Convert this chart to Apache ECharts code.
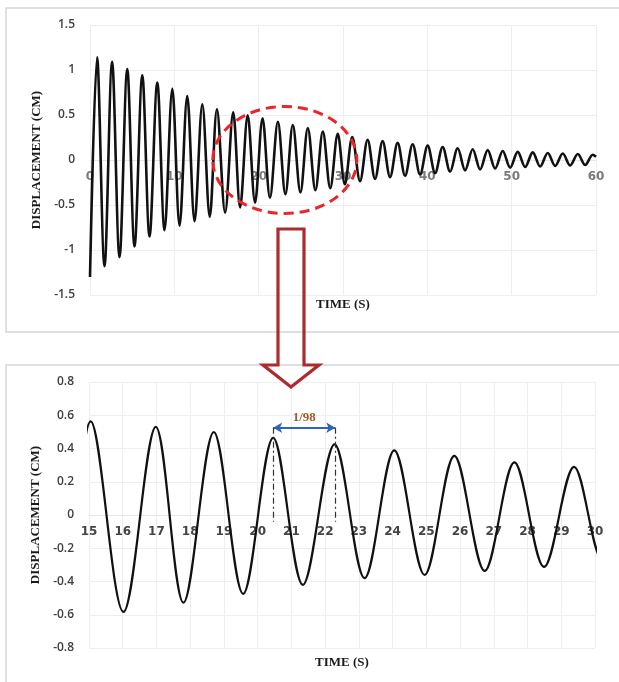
<!DOCTYPE html>
<html>
<head>
<meta charset="utf-8">
<script src="https://cdn.jsdelivr.net/npm/echarts@6/dist/echarts.min.js"></script>
<style>
html,body{margin:0;padding:0;background:#ffffff;}
#chart{width:619px;height:682px;}
</style>
</head>
<body>
<div id="chart"></div>
<script>
// ---- Data (extrema of the damped response) ----
const time = [
  0.00, 0.84, 1.72, 2.62, 3.50, 4.42, 5.28, 6.20, 7.06, 7.98, 8.84,
  9.76, 10.62, 11.53, 12.40, 13.32, 14.20, 15.05, 16.02, 16.98, 17.80,
  18.70, 19.57, 20.46, 21.34, 22.28, 23.17, 24.05, 24.95, 25.83, 26.73,
  27.61, 28.49, 29.38, 30.22, 31.10, 32.02, 32.92, 33.80, 34.70, 35.58,
  36.48, 37.36, 38.26, 39.14, 40.04, 40.92, 41.82, 42.70, 43.60, 44.48,
  45.38, 46.26, 47.16, 48.04, 48.94, 49.82, 50.72, 51.60, 52.50, 53.38,
  54.28, 55.16, 56.06, 56.94, 57.84, 58.72, 59.62, 60.00
];
const displacement = [
  -1.30, 1.14, -1.18, 1.09, -1.08, 1.01, -0.96, 0.94, -0.85, 0.86, -0.78,
  0.79, -0.73, 0.71, -0.68, 0.62, -0.63, 0.563, -0.583, 0.530, -0.527,
  0.498, -0.474, 0.464, -0.420, 0.425, -0.380, 0.389, -0.360, 0.356, -0.336,
  0.316, -0.312, 0.290, -0.270, 0.255, -0.235, 0.225, -0.210, 0.210, -0.190,
  0.190, -0.175, 0.175, -0.160, 0.160, -0.145, 0.145, -0.130, 0.130, -0.115,
  0.120, -0.105, 0.110, -0.095, 0.100, -0.085, 0.090, -0.078, 0.085, -0.072,
  0.078, -0.066, 0.072, -0.060, 0.066, -0.055, 0.058, 0.035
];

// axis ranges / tick steps
const topXRange = [0, 60];   const topXStep = 10;
const topYRange = [-1.5, 1.5]; const topYStep = 0.5;
const botXRange = [15, 30];  const botXStep = 1;
const botYRange = [-0.8, 0.8]; const botYStep = 0.2;

// annotations (data units)
const periodPeaks = [20.46, 22.30];
const periodLevel = 0.525;
const periodFoot = -0.04;
const periodLabel = '1/98';
const zoomEllipse = [23.1, 0.0, 8.54, 0.594]; // cx, cy, rx, ry in data units of top chart

const xName = 'TIME (S)';
const yName = 'DISPLACEMENT (CM)';

const seriesData = time.map((t, i) => [t, displacement[i]]);

const chart = echarts.init(document.getElementById('chart'), null, {renderer: 'canvas'});

const nameStyle = {fontFamily: 'Liberation Serif', fontWeight: 'bold', fontSize: 13, color: '#1a1a1a'};
const gridLine = {show: true, lineStyle: {color: '#eeeeee', width: 1}};

const topGrid = {left: 90, right: 23, top: 25, height: 270};
const botGrid = {left: 89, right: 24, top: 382, height: 266};

// x axis drawn at y = 0 (ranges are symmetric, so the zero line is mid-height)
function xAxis(gi, range, step, labelColor, gap, gridH) {
  return {
    gridIndex: gi, type: 'value', min: range[0], max: range[1], interval: step,
    offset: -gridH / 2,
    axisLine: {show: true, onZero: false, lineStyle: {color: '#e6e6e6', width: 1}},
    axisTick: {show: false},
    axisLabel: {color: labelColor, fontFamily: 'DejaVu Sans', fontWeight: 'bold', fontSize: 12, margin: 11},
    splitLine: gridLine,
    name: xName, nameLocation: 'middle', nameGap: gap, nameTextStyle: nameStyle
  };
}
function yAxis(gi, range, step, gap) {
  return {
    gridIndex: gi, type: 'value', min: range[0], max: range[1], interval: step,
    axisLine: {show: false}, axisTick: {show: false},
    axisLabel: {color: '#3f3f3f', fontFamily: 'Open Sans', fontWeight: 600, fontSize: 12, margin: 15},
    splitLine: gridLine,
    name: yName, nameLocation: 'middle', nameGap: gap, nameTextStyle: nameStyle
  };
}

chart.setOption({
  animation: false,
  backgroundColor: '#ffffff',
  grid: [
    Object.assign({containLabel: false, outerBoundsMode: 'none'}, topGrid),
    Object.assign({containLabel: false, outerBoundsMode: 'none'}, botGrid)
  ],
  xAxis: [
    xAxis(0, topXRange, topXStep, '#7a7a7a', 138, topGrid.height),
    xAxis(1, botXRange, botXStep, '#444444', 141, botGrid.height)
  ],
  yAxis: [
    yAxis(0, topYRange, topYStep, 46),
    yAxis(1, botYRange, botYStep, 45)
  ],
  series: [
    {
      type: 'line', xAxisIndex: 0, yAxisIndex: 0, data: seriesData,
      smooth: 0.34, symbol: 'none', clip: true,
      lineStyle: {color: '#111111', width: 2.6}
    },
    {
      type: 'line', xAxisIndex: 1, yAxisIndex: 1, data: seriesData,
      smooth: 0.34, symbol: 'none', clip: true,
      lineStyle: {color: '#111111', width: 2.2},
      markLine: {
        silent: true, animation: false, symbol: ['none', 'none'], z: 5,
        data: [
          [
            {coord: [periodPeaks[0], periodLevel], symbol: 'arrow', symbolSize: [8, 9],
             lineStyle: {color: '#2f62c2', width: 2, type: 'solid'},
             label: {show: true, position: 'middle', formatter: periodLabel, color: '#a35a28',
                     fontFamily: 'Liberation Serif', fontWeight: 'bold', fontSize: 13, distance: 4}},
            {coord: [periodPeaks[1], periodLevel], symbol: 'arrow', symbolSize: [8, 9]}
          ],
          [
            {coord: [periodPeaks[0], periodLevel], lineStyle: {color: '#333333', width: 1.2, type: [6, 3, 2, 3]}, label: {show: false}},
            {coord: [periodPeaks[0], periodFoot]}
          ],
          [
            {coord: [periodPeaks[1], periodLevel], lineStyle: {color: '#333333', width: 1.2, type: [6, 3, 2, 3]}, label: {show: false}},
            {coord: [periodPeaks[1], periodFoot]}
          ]
        ]
      }
    }
  ]
});

// data-anchored ellipse on the top chart
const c = chart.convertToPixel({gridIndex: 0}, [zoomEllipse[0], zoomEllipse[1]]);
const e = chart.convertToPixel({gridIndex: 0}, [zoomEllipse[0] + zoomEllipse[2], zoomEllipse[1] + zoomEllipse[3]]);

chart.setOption({
  graphic: [
    {type: 'rect', z: 0, silent: true, shape: {x: 6, y: 8, width: 650, height: 324},
     style: {fill: 'none', stroke: '#d6d6d6', lineWidth: 1.5}},
    {type: 'rect', z: 0, silent: true, shape: {x: 6, y: 365, width: 650, height: 400},
     style: {fill: 'none', stroke: '#d6d6d6', lineWidth: 1.5}},
    {type: 'ellipse', z: 100, silent: true,
     shape: {cx: c[0], cy: c[1], rx: e[0] - c[0], ry: c[1] - e[1]},
     style: {fill: 'none', stroke: '#e8262c', lineWidth: 3, lineDash: [10, 6]}},
    {type: 'polygon', z: 100, silent: true,
     shape: {points: [[278, 229], [304, 229], [304, 365], [319, 365], [291, 387], [263, 365], [278, 365]]},
     style: {fill: 'none', stroke: '#ad2a2e', lineWidth: 3.2, lineJoin: 'miter'}}
  ]
});
</script>
</body>
</html>
